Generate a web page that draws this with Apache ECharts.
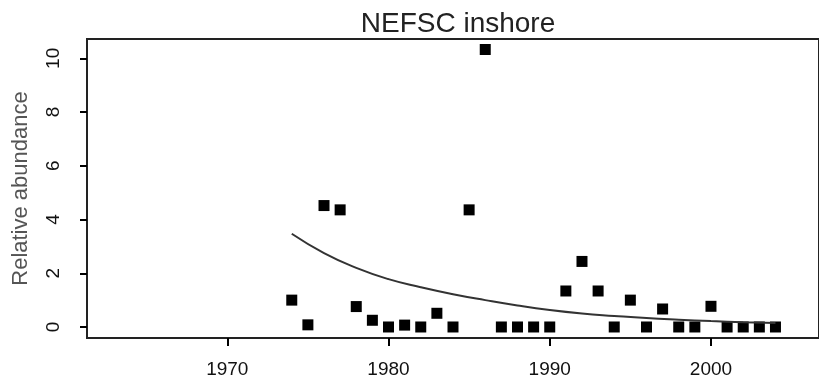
<!DOCTYPE html>
<html>
<head>
<meta charset="utf-8">
<script src="https://cdn.jsdelivr.net/npm/echarts@6/dist/echarts.min.js"></script>
<style>
  html, body { margin: 0; padding: 0; background: #fff; }
  #chart { width: 819px; height: 381px; }
</style>
</head>
<body>
<div id="chart"></div>
<script>
// survey index, one value per year
const years = [1974, 1975, 1976, 1977, 1978, 1979, 1980, 1981, 1982, 1983, 1984,
               1985, 1986, 1987, 1988, 1989, 1990, 1991, 1992, 1993, 1994, 1995,
               1996, 1997, 1998, 1999, 2000, 2001, 2002, 2003, 2004]
const abundance = [1.0, 0.08, 4.52, 4.36, 0.76, 0.25, 0.0, 0.07, 0.0, 0.51, 0.0,
                   4.36, 10.33, 0.0, 0.0, 0.0, 0.0, 1.34, 2.44, 1.34, 0.0, 1.0,
                   0.0, 0.67, 0.0, 0.0, 0.77, 0.0, 0.0, 0.0, 0.0]

// fitted trend
const trendYears = [1974, 1976, 1978, 1980, 1982, 1984, 1986, 1988, 1990, 1992, 1994, 1996, 1998, 2000, 2002, 2004]
const trendValues = [3.47, 2.75, 2.2, 1.78, 1.48, 1.22, 1.0, 0.8, 0.63, 0.5, 0.41, 0.33, 0.27, 0.22, 0.18, 0.15]

const xTicks = [1970, 1980, 1990, 2000]
const yTicks = [0, 2, 4, 6, 8, 10]

const chart = echarts.init(document.getElementById('chart'), null, {renderer: 'canvas'})

const tickFont = {
    fontFamily: 'Liberation Sans Narrow, Liberation Sans, Arial, sans-serif',
    fontSize: 19,
    color: '#111'
}

var option = {
    animation: false,
    title: {
        text: 'NEFSC inshore',
        left: 453,
        textAlign: 'center',
        top: 5,
        textStyle: {fontFamily: 'Liberation Sans, Arial, sans-serif', fontSize: 28, fontWeight: 'normal', color: '#222'}
    },
    grid: {
        left: 87, top: 39, right: -8, bottom: 43,
        show: true, borderColor: '#222', borderWidth: 2, backgroundColor: 'transparent'
    },
    xAxis: {
        type: 'value',
        min: 1961.3,
        max: 2006.7,
        splitLine: {show: false},
        axisLine: {show: true, onZero: false, lineStyle: {color: '#222', width: 2}},
        axisTick: {show: true, inside: false, length: 8, customValues: xTicks, lineStyle: {color: 'black', width: 2}},
        axisLabel: Object.assign({customValues: xTicks, margin: 22, formatter: v => String(v)}, tickFont)
    },
    yAxis: {
        type: 'value',
        min: -0.41,
        max: 10.72,
        name: 'Relative abundance',
        nameLocation: 'middle',
        nameGap: 55,
        nameTextStyle: {fontFamily: 'Liberation Sans, Arial, sans-serif', fontSize: 22, color: '#555'},
        splitLine: {show: false},
        axisLine: {show: true, onZero: false, lineStyle: {color: '#222', width: 2}},
        axisTick: {show: true, inside: false, length: 7, customValues: yTicks, lineStyle: {color: 'black', width: 2}},
        axisLabel: Object.assign({customValues: yTicks, rotate: 90, margin: 24}, tickFont)
    },
    series: [
        {
            type: 'line',
            data: trendYears.map((y, i) => [y, trendValues[i]]),
            smooth: true,
            showSymbol: false,
            lineStyle: {color: '#333', width: 2}
        },
        {
            type: 'scatter',
            data: years.map((y, i) => [y, abundance[i]]),
            symbol: 'rect',
            symbolSize: 11,
            itemStyle: {color: '#000', opacity: 1}
        }
    ]
}

chart.setOption(option)
</script>
</body>
</html>
